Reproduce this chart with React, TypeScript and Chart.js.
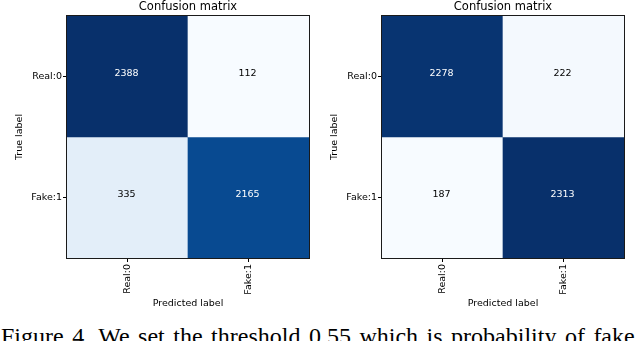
import React, { useEffect, useRef } from "react";
import { Chart, registerables } from "chart.js";

Chart.register(...registerables);

// ---- data ----
const classLabels = ["Real:0", "Fake:1"];
const matrixLeft = [
  [2388, 112],
  [335, 2165],
];
const matrixRight = [
  [2278, 222],
  [187, 2313],
];
const chartTitle = "Confusion matrix";
const xAxisTitle = "Predicted label";
const yAxisTitle = "True label";
const captionText = "Figure 4. We set the threshold 0.55 which is probability of fake";

// matplotlib "Blues" colormap stops
const BLUES = [
  [247, 251, 255],
  [222, 235, 247],
  [198, 219, 239],
  [158, 202, 225],
  [107, 174, 214],
  [66, 146, 198],
  [33, 113, 181],
  [8, 81, 156],
  [8, 48, 107],
];

function blues(t: number): string {
  const x = Math.max(0, Math.min(1, t)) * (BLUES.length - 1);
  const i = Math.min(BLUES.length - 2, Math.floor(x));
  const f = x - i;
  const a = BLUES[i];
  const b = BLUES[i + 1];
  const c = a.map((v, k) => Math.round(v + (b[k] - v) * f));
  return `rgb(${c[0]},${c[1]},${c[2]})`;
}

const FONT = "'DejaVu Sans', sans-serif";
const CW = 320;
const CH = 315;

function ConfusionChart({ matrix, left }: { matrix: number[][]; left: number }) {
  const ref = useRef<HTMLCanvasElement | null>(null);

  useEffect(() => {
    const canvas = ref.current;
    if (!canvas) return;
    const flat = matrix.flat();
    const min = Math.min(...flat);
    const max = Math.max(...flat);
    const thresh = max / 2;

    const datasets = matrix.map((row, i) => ({
      label: classLabels[i],
      data: row.map(() => [i, i + 1]),
      backgroundColor: row.map((v) => blues((v - min) / (max - min))),
      borderWidth: 0,
      grouped: false,
      barPercentage: 1,
      categoryPercentage: 1,
    }));

    const valuePlugin = {
      id: "cmValues",
      afterDatasetsDraw(chart: any) {
        const ctx = chart.ctx;
        ctx.save();
        ctx.font = `9.5px ${FONT}`;
        ctx.textAlign = "center";
        ctx.textBaseline = "middle";
        chart.data.datasets.forEach((_ds: any, i: number) => {
          const meta = chart.getDatasetMeta(i);
          meta.data.forEach((el: any, j: number) => {
            const v = matrix[i][j];
            const p = el.getProps(["x", "y", "base"], true);
            ctx.fillStyle = v > thresh ? "#ffffff" : "#000000";
            ctx.fillText(String(v), p.x - 1, (p.y + p.base) / 2 - 2.5);
          });
        });
        const a = chart.chartArea;
        ctx.strokeStyle = "#1a1a1a";
        ctx.lineWidth = 1;
        ctx.strokeRect(a.left - 0.5, a.top - 0.5, a.right - a.left + 1, a.bottom - a.top + 1);
        ctx.restore();
      },
    };

    const tickFont = { family: FONT, size: 9.5 };

    const chart = new Chart(canvas, {
      type: "bar",
      data: { labels: classLabels, datasets: datasets as any },
      options: {
        responsive: false,
        animation: false,
        devicePixelRatio: 1,
        events: [],
        layout: { padding: { left: 0, right: 11, top: 0, bottom: 0 } },
        plugins: {
          legend: { display: false },
          tooltip: { enabled: false },
          title: {
            display: true,
            text: chartTitle,
            fullSize: false,
            color: "#000",
            font: { family: FONT, size: 11.5, weight: "normal", lineHeight: 1.2 },
            padding: { top: 0, bottom: 2.2 },
          },
        },
        scales: {
          x: {
            type: "category",
            offset: true,
            grid: {
              display: true,
              drawOnChartArea: false,
              drawTicks: true,
              tickLength: 4,
              color: "#000",
              offset: false,
            },
            border: { display: false },
            ticks: {
              autoSkip: false,
              minRotation: 90,
              maxRotation: 90,
              padding: 2,
              color: "#000",
              font: tickFont,
            },
            title: {
              display: true,
              text: xAxisTitle,
              color: "#000",
              font: { family: FONT, size: 9.5, lineHeight: 1.2 },
              padding: { top: 0, bottom: 5.3 },
            },
            afterFit(scale: any) {
              scale.height = CH - 258;
            },
          },
          y: {
            type: "linear",
            min: 0,
            max: 2,
            reverse: true,
            afterBuildTicks(scale: any) {
              scale.ticks = classLabels.map((_l, i) => ({ value: i + 0.5 }));
            },
            grid: {
              display: true,
              drawOnChartArea: false,
              drawTicks: true,
              tickLength: 4,
              color: "#000",
            },
            border: { display: false },
            ticks: {
              padding: 1,
              color: "#000",
              font: tickFont,
              callback: (_v: any, i: number) => classLabels[i],
            },
            title: {
              display: true,
              text: yAxisTitle,
              color: "#000",
              font: { family: FONT, size: 9.5, lineHeight: 1.2 },
              padding: { top: 14.3, bottom: 0 },
            },
            afterFit(scale: any) {
              scale.width = 67;
            },
          },
        },
      } as any,
      plugins: [valuePlugin],
    });

    return () => chart.destroy();
  }, [matrix]);

  return (
    <canvas
      ref={ref}
      width={CW}
      height={CH}
      style={{ position: "absolute", left, top: 0, width: CW, height: CH }}
    />
  );
}

export default function App() {
  return (
    <div
      style={{
        position: "fixed",
        left: 0,
        top: 0,
        width: 640,
        height: 341,
        overflow: "hidden",
        background: "#fff",
      }}
    >
      <ConfusionChart matrix={matrixLeft} left={0} />
      <ConfusionChart matrix={matrixRight} left={315} />
      <div
        style={{
          position: "absolute",
          left: 1,
          top: 324,
          fontFamily: "'Liberation Serif', 'Times New Roman', serif",
          fontSize: 24,
          lineHeight: "24px",
          wordSpacing: "2.5px",
          whiteSpace: "nowrap",
          color: "#000",
        }}
      >
        {captionText}
      </div>
    </div>
  );
}
